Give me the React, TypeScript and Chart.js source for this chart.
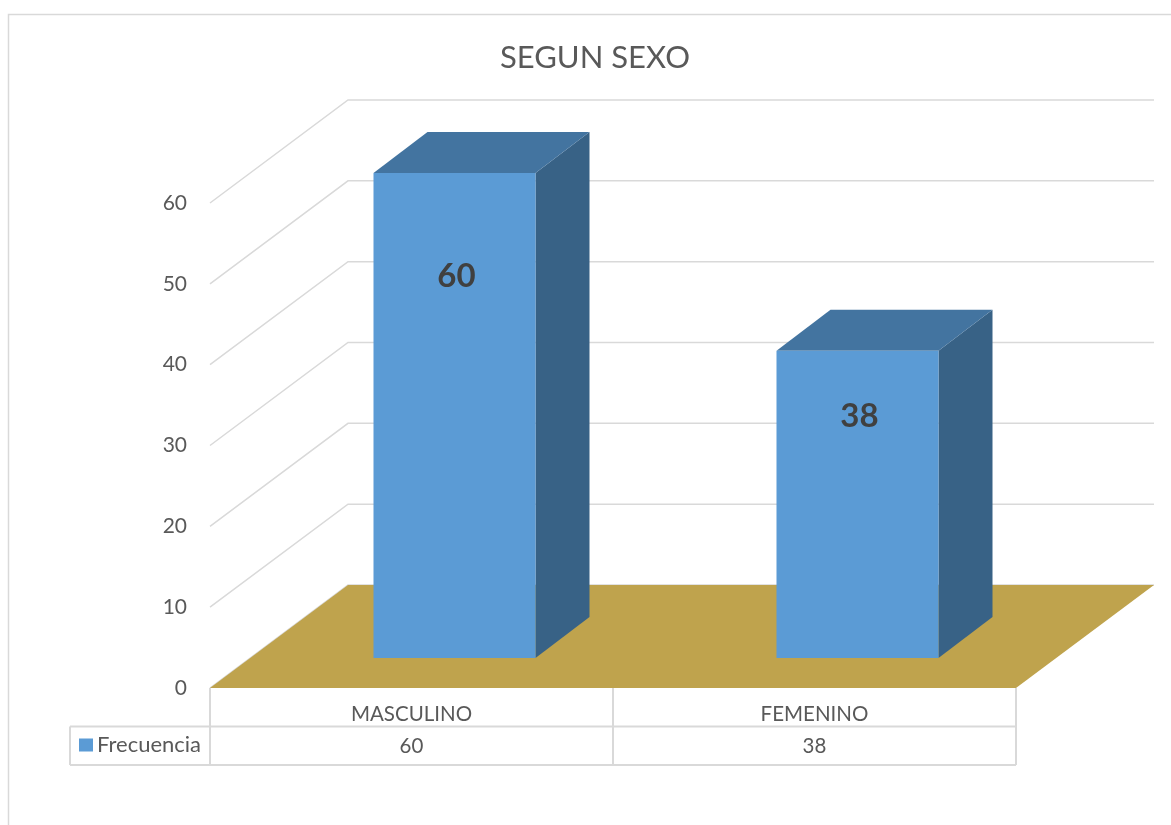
import React, { useEffect, useRef } from "react";
import { Chart, registerables } from "chart.js";

Chart.register(...registerables);

const titleText = "SEGUN SEXO";
const categories = ["MASCULINO", "FEMENINO"];
const seriesName = "Frecuencia";
const frecuencia = [60, 38];
const yMin = 0;
const yMax = 60;
const yStep = 10;

const W = 1171;
const H = 825;
const FONT = "Lato, 'Open Sans', sans-serif";
const TEXT = "#595959";
const GRID = "#D9D9D9";
const FLOOR = "#BFA34D";
const FRONT = "#5B9BD5";
const TOPC = "#4374A0";
const SIDE = "#386286";

// 3D projection constants (pixels)
const DEPTH = { dx: 138, dy: -103 };
const BAR_FRONT = { dx: 43, dy: -30 };
const BAR_DEPTH = { dx: 54, dy: -41 };

const threeD = {
  id: "threeD",
  beforeDatasetsDraw(chart: any) {
    const { ctx, chartArea, scales } = chart;
    const y = scales.y;
    const left = chartArea.left;
    const right = chartArea.right;
    ctx.save();
    ctx.strokeStyle = GRID;
    ctx.lineWidth = 1.5;
    for (let v = yMin; v <= yMax; v += yStep) {
      const py = y.getPixelForValue(v);
      ctx.beginPath();
      ctx.moveTo(left, py);
      ctx.lineTo(left + DEPTH.dx, py + DEPTH.dy);
      ctx.lineTo(right + DEPTH.dx, py + DEPTH.dy);
      ctx.stroke();
    }
    const y0 = y.getPixelForValue(0);
    ctx.fillStyle = FLOOR;
    ctx.beginPath();
    ctx.moveTo(left, y0);
    ctx.lineTo(right, y0);
    ctx.lineTo(right + DEPTH.dx, y0 + DEPTH.dy);
    ctx.lineTo(left + DEPTH.dx, y0 + DEPTH.dy);
    ctx.closePath();
    ctx.fill();
    ctx.restore();
  },
  afterDatasetsDraw(chart: any) {
    const { ctx, scales } = chart;
    const y = scales.y;
    const meta = chart.getDatasetMeta(0);
    ctx.save();
    meta.data.forEach((el: any, i: number) => {
      const w = el.width;
      const L = el.x - w / 2 + BAR_FRONT.dx;
      const R = el.x + w / 2 + BAR_FRONT.dx;
      const T = el.y + BAR_FRONT.dy;
      const B = el.base + BAR_FRONT.dy;
      ctx.fillStyle = SIDE;
      ctx.beginPath();
      ctx.moveTo(R, T);
      ctx.lineTo(R + BAR_DEPTH.dx, T + BAR_DEPTH.dy);
      ctx.lineTo(R + BAR_DEPTH.dx, B + BAR_DEPTH.dy);
      ctx.lineTo(R, B);
      ctx.closePath();
      ctx.fill();
      ctx.fillStyle = TOPC;
      ctx.beginPath();
      ctx.moveTo(L, T);
      ctx.lineTo(L + BAR_DEPTH.dx, T + BAR_DEPTH.dy);
      ctx.lineTo(R + BAR_DEPTH.dx, T + BAR_DEPTH.dy);
      ctx.lineTo(R, T);
      ctx.closePath();
      ctx.fill();
      ctx.fillStyle = FRONT;
      ctx.fillRect(L, T, R - L, B - T);
      const v = frecuencia[i];
      const ly = y.getPixelForValue(v * 0.79) + BAR_FRONT.dy;
      ctx.fillStyle = "#404040";
      ctx.font = `bold 33px ${FONT}`;
      ctx.textAlign = "center";
      ctx.textBaseline = "alphabetic";
      ctx.fillText(String(v), (L + R) / 2 + 2, ly + 12);
    });
    ctx.restore();
  },
  afterDraw(chart: any) {
    const { ctx, chartArea, scales } = chart;
    const x = scales.x;
    const y = scales.y;
    const left = chartArea.left;
    const right = chartArea.right;
    const y0 = y.getPixelForValue(0);
    const rowH = 38.5;
    const r1 = y0 + rowH;
    const r2 = y0 + rowH * 2;
    const legendLeft = 70;
    ctx.save();
    ctx.strokeStyle = GRID;
    ctx.lineWidth = 1.5;
    ctx.beginPath();
    ctx.moveTo(8.5, H);
    ctx.lineTo(8.5, 14.5);
    ctx.lineTo(W, 14.5);
    ctx.stroke();

    ctx.fillStyle = TEXT;
    ctx.font = `31px ${FONT}`;
    ctx.textAlign = "center";
    ctx.textBaseline = "alphabetic";
    ctx.fillText(titleText, (left + right) / 2 - 18, 68);

    ctx.strokeStyle = GRID;
    ctx.lineWidth = 2;
    ctx.beginPath();
    ctx.moveTo(legendLeft, r1);
    ctx.lineTo(right, r1);
    ctx.moveTo(legendLeft, r2);
    ctx.lineTo(right, r2);
    ctx.moveTo(legendLeft, r1);
    ctx.lineTo(legendLeft, r2);
    const half = (right - left) / categories.length / 2;
    const bounds: number[] = [left];
    categories.forEach((_, i) => bounds.push(x.getPixelForValue(i) + half));
    bounds.forEach((bx) => {
      ctx.moveTo(bx, y0);
      ctx.lineTo(bx, r2);
    });
    ctx.stroke();

    ctx.fillStyle = TEXT;
    ctx.font = `20.5px ${FONT}`;
    ctx.textAlign = "center";
    categories.forEach((c, i) => {
      const cx = x.getPixelForValue(i);
      ctx.fillText(c, cx, r1 - 6);
      ctx.fillText(String(frecuencia[i]), cx, r2 - 12);
    });
    ctx.fillStyle = FRONT;
    ctx.fillRect(79, r1 + 12, 14, 13);
    ctx.fillStyle = TEXT;
    ctx.textAlign = "left";
    ctx.font = `22px ${FONT}`;
    ctx.fillText(seriesName, 97, r2 - 13);
    ctx.restore();
  },
};

export default function App() {
  const ref = useRef<HTMLCanvasElement | null>(null);
  useEffect(() => {
    if (!ref.current) return;
    const chart = new Chart(ref.current, {
      type: "bar",
      data: {
        labels: categories,
        datasets: [
          {
            label: seriesName,
            data: frecuencia,
            backgroundColor: "rgba(0,0,0,0)",
            borderWidth: 0,
            barPercentage: 0.402,
            categoryPercentage: 1,
          },
        ],
      },
      options: {
        responsive: false,
        animation: false,
        devicePixelRatio: 1,
        layout: { padding: { left: 0, right: 155, top: 203, bottom: 137 } },
        plugins: {
          legend: { display: false },
          title: { display: false },
          tooltip: { enabled: false },
        },
        scales: {
          x: { display: false },
          y: {
            min: yMin,
            max: yMax,
            ticks: {
              stepSize: yStep,
              color: TEXT,
              font: { family: FONT, size: 21 },
              padding: 23,
            },
            grid: { display: false, drawTicks: false },
            border: { display: false },
            afterFit(scale: any) {
              scale.width = 210;
            },
          },
        },
      },
      plugins: [threeD],
    });
    return () => chart.destroy();
  }, []);
  return (
    <div style={{ position: "fixed", left: 0, top: 0, width: W, height: H, background: "#fff" }}>
      <canvas ref={ref} width={W} height={H} style={{ width: W, height: H, display: "block" }} />
    </div>
  );
}
